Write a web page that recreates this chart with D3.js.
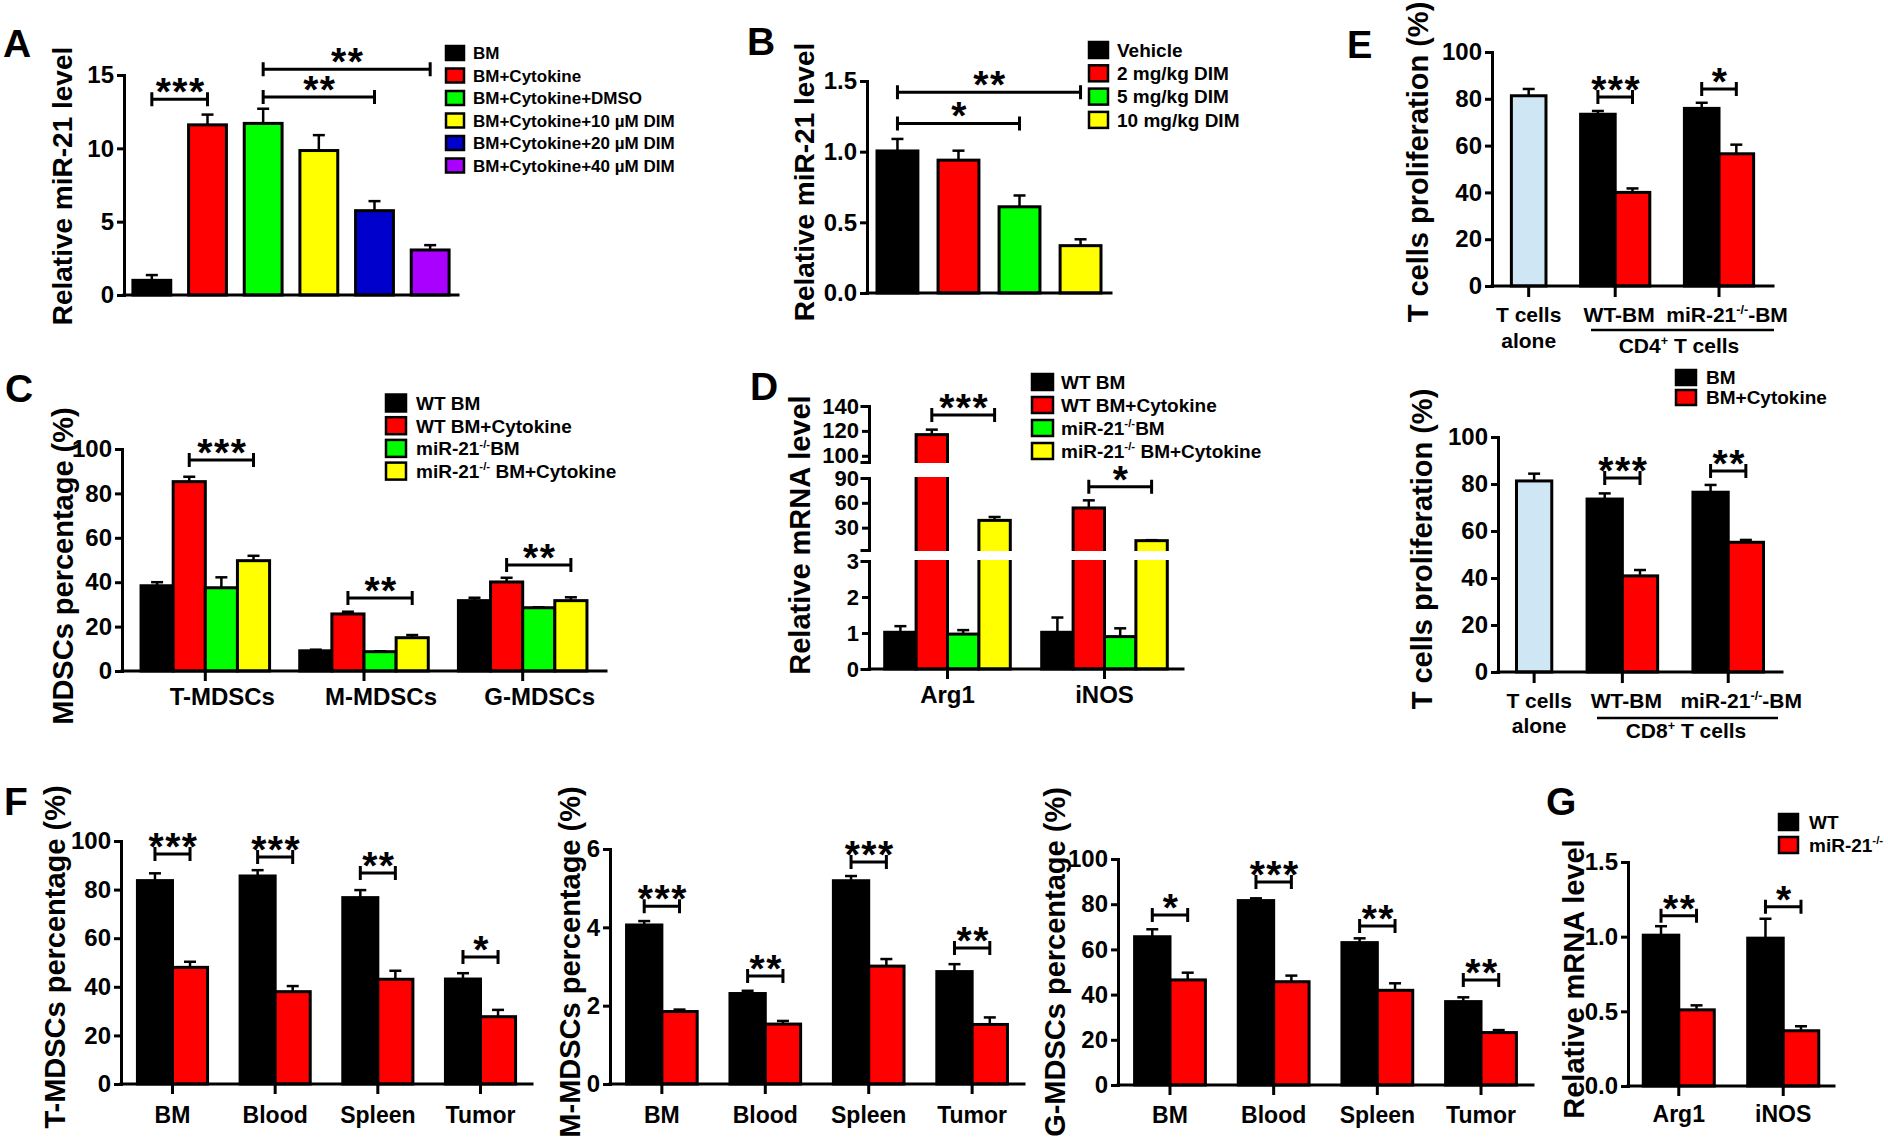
<!DOCTYPE html>
<html>
<head>
<meta charset="utf-8">
<title>miR-21 figure</title>
<script src="https://cdn.jsdelivr.net/npm/d3@7/dist/d3.min.js"></script>
<style>
  html, body { margin: 0; padding: 0; background: #ffffff; }
  svg { display: block; }
</style>
</head>
<body>
<svg id="fig" width="1888" height="1146" xmlns="http://www.w3.org/2000/svg"></svg>
<script>
// ================= DATA =================
// Panel A
const aGroups = ["BM", "BM+Cytokine", "BM+Cytokine+DMSO", "BM+Cytokine+10 µM DIM", "BM+Cytokine+20 µM DIM", "BM+Cytokine+40 µM DIM"];
const aMeans = [1.0, 11.6, 11.7, 9.85, 5.75, 3.07];
const aSem = [0.36, 0.7, 1.0, 1.05, 0.65, 0.33];
const aTicks = [0, 5, 10, 15];
const aSig = [
  { from: 0, to: 1, level: 13.35, label: "***" },
  { from: 2, to: 4, level: 13.5, label: "**" },
  { from: 2, to: 5, level: 15.4, label: "**" }
];

// Panel B
const bGroups = ["Vehicle", "2 mg/kg DIM", "5 mg/kg DIM", "10 mg/kg DIM"];
const bMeans = [1.005, 0.94, 0.61, 0.335];
const bSem = [0.085, 0.067, 0.08, 0.045];
const bTicks = [0, 0.5, 1.0, 1.5];
const bSig = [
  { from: 0, to: 3, level: 1.42, label: "**" },
  { from: 0, to: 2, level: 1.20, label: "*" }
];

// Panel C
const cGroups = ["T-MDSCs", "M-MDSCs", "G-MDSCs"];
const cSeries = ["WT BM", "WT BM+Cytokine", "miR-21^{-/-}BM", "miR-21^{-/-} BM+Cytokine"];
const cWtBm = [38.4, 9.1, 31.7];
const cWtBmSem = [1.6, 0.5, 1.3];
const cWtBmCyt = [85.3, 25.7, 40.1];
const cWtBmCytSem = [2.2, 1.0, 1.9];
const cKoBm = [37.5, 8.7, 28.5];
const cKoBmSem = [4.7, 0.2, 0.2];
const cKoBmCyt = [49.7, 15.0, 31.7];
const cKoBmCytSem = [2.2, 1.2, 1.5];
const cTicks = [0, 20, 40, 60, 80, 100];
const cSig = [
  { group: 0, from: 1, to: 3, level: 95, label: "***" },
  { group: 1, from: 1, to: 3, level: 32.9, label: "**" },
  { group: 2, from: 1, to: 3, level: 47.7, label: "**" }
];

// Panel D
const dGroups = ["Arg1", "iNOS"];
const dSeries = ["WT BM", "WT BM+Cytokine", "miR-21^{-/-}BM", "miR-21^{-/-} BM+Cytokine"];
const dWtBm = [1.02, 1.02];
const dWtBmSem = [0.17, 0.41];
const dWtBmCyt = [117, 53.8];
const dWtBmCytSem = [4.0, 9.2];
const dKoBm = [0.97, 0.90];
const dKoBmSem = [0.11, 0.23];
const dKoBmCyt = [38.8, 14.3];
const dKoBmCytSem = [4.1, 0.6];
const dTicksBottom = [0, 1, 2, 3];
const dTicksMid = [30, 60, 90];
const dTicksTop = [100, 120, 140];
const dSig = [
  { group: 0, from: 1, to: 3, level: 132.7, label: "***" },
  { group: 1, from: 1, to: 3, level: 79.5, label: "*" }
];

// Panel E
const eGroups = ["T cells alone", "WT-BM", "miR-21^{-/-}-BM"];
const eSeries = ["BM", "BM+Cytokine"];
const eTicks = [0, 20, 40, 60, 80, 100];
const eCd4Alone = 81.3, eCd4AloneSem = 2.9;
const eCd4Bm = [73.4, 75.9];
const eCd4BmSem = [1.4, 2.4];
const eCd4BmCyt = [40.0, 56.5];
const eCd4BmCytSem = [1.7, 3.9];
const eCd4Sig = [{ group: 1, level: 80.8, label: "***" }, { group: 2, level: 84.2, label: "*" }];
const eCd8Alone = 81.3, eCd8AloneSem = 3.1;
const eCd8Bm = [73.6, 76.5];
const eCd8BmSem = [2.4, 3.1];
const eCd8BmCyt = [40.9, 55.2];
const eCd8BmCytSem = [2.5, 1.0];
const eCd8Sig = [{ group: 1, level: 82.6, label: "***" }, { group: 2, level: 85.5, label: "**" }];

// Panel F
const fGroups = ["BM", "Blood", "Spleen", "Tumor"];
const fTWt = [83.7, 85.6, 76.7, 43.2];
const fTWtSem = [3.0, 2.4, 3.1, 2.4];
const fTKo = [48.0, 38.0, 43.1, 27.7];
const fTKoSem = [2.3, 2.3, 3.5, 2.8];
const fTSigLabels = ["***", "***", "**", "*"];
const fTSigLevels = [94.7, 93.4, 86.8, 52.3];
const fMWt = [4.06, 2.31, 5.19, 2.87];
const fMWtSem = [0.10, 0.07, 0.12, 0.19];
const fMKo = [1.85, 1.53, 3.01, 1.52];
const fMKoSem = [0.05, 0.08, 0.18, 0.18];
const fMSigLabels = ["***", "**", "***", "**"];
const fMSigLevels = [4.54, 2.76, 5.67, 3.47];
const fGWt = [65.6, 81.6, 63.0, 36.9];
const fGWtSem = [3.3, 1.0, 1.9, 1.9];
const fGKo = [46.5, 45.7, 41.9, 23.2];
const fGKoSem = [3.2, 2.7, 3.1, 1.1];
const fGSigLabels = ["*", "***", "**", "**"];
const fGSigLevels = [75.2, 89.8, 70.4, 46.5];
const fPctTicks = [0, 20, 40, 60, 80, 100];
const fMTicks = [0, 2, 4, 6];

// Panel G
const gGroups = ["Arg1", "iNOS"];
const gSeries = ["WT", "miR-21^{-/-}"];
const gWt = [1.01, 0.99];
const gWtSem = [0.06, 0.13];
const gKo = [0.51, 0.37];
const gKoSem = [0.03, 0.03];
const gTicks = [0, 0.5, 1.0, 1.5];
const gSig = [{ group: 0, from: 0, to: 1, level: 1.14, label: "**" }, { group: 1, from: 0, to: 1, level: 1.20, label: "*" }];

// Colours
const aColors = ["#000000", "#ff0000", "#00ff00", "#ffff00", "#0000cc", "#aa00ff"];
const fourColors = ["#000000", "#ff0000", "#00ff00", "#ffff00"];
const pairColors = ["#000000", "#ff0000"];
const aloneColor = "#cfe7f5";

// ================= DRAWING =================
const FONT = "'Liberation Sans', Arial, Helvetica, sans-serif";
const svg = d3.select("#fig");
svg.append("rect").attr("width", 1888).attr("height", 1146).attr("fill", "#ffffff");
const fmtInt = d3.format("d");
const fmt1 = d3.format(".1f");

function richText(g, x, y, str, size, anchor, rotate) {
  const t = g.append("text").attr("x", x).attr("y", y)
    .attr("font-size", size).attr("font-family", FONT).attr("font-weight", "bold")
    .attr("fill", "#000").attr("text-anchor", anchor || "start")
    .style("white-space", "pre");
  if (rotate) t.attr("transform", `rotate(-90,${x},${y})`);
  const parts = str.split(/\^\{([^}]*)\}/);
  let shifted = false;
  parts.forEach((p, i) => {
    const sup = i % 2 === 1;
    if (p === "") return;
    const ts = t.append("tspan").text(p);
    if (sup) { ts.attr("font-size", size * 0.6).attr("dy", -size * 0.4); shifted = true; }
    else if (shifted) { ts.attr("dy", size * 0.4); shifted = false; }
  });
  return t;
}

function drawBar(g, x, w, y, v, sem, color) {
  const cx = x + w / 2;
  if (sem > 0) {
    g.append("line").attr("x1", cx).attr("x2", cx).attr("y1", y(v)).attr("y2", y(v + sem))
      .attr("stroke", "#000").attr("stroke-width", 2.5);
    g.append("line").attr("x1", cx - 6).attr("x2", cx + 6).attr("y1", y(v + sem)).attr("y2", y(v + sem))
      .attr("stroke", "#000").attr("stroke-width", 2.5);
  }
  g.append("rect").attr("x", x).attr("y", y(v)).attr("width", w).attr("height", y(0) - y(v))
    .attr("fill", color).attr("stroke", "#000").attr("stroke-width", 3);
}

function drawYAxis(g, y, x, ticks, fmt, outer, size) {
  const ax = d3.axisLeft(y).tickValues(ticks).tickSize(7).tickSizeOuter(outer || 0).tickPadding(3);
  ax.tickFormat(fmt || fmtInt);
  const a = g.append("g").attr("transform", `translate(${x},0)`).call(ax);
  a.attr("font-family", FONT).attr("font-size", size || 24).attr("font-weight", "bold");
  a.selectAll("path, line").attr("stroke", "#000").attr("stroke-width", 3);
  a.select(".domain").attr("stroke-linecap", "square");
  a.selectAll("text").attr("fill", "#000");
  return a;
}

function drawXBase(g, x0, x1, y) {
  g.append("line").attr("x1", x0).attr("x2", x1).attr("y1", y).attr("y2", y)
    .attr("stroke", "#000").attr("stroke-width", 3).attr("stroke-linecap", "square");
}

function bracket(g, x1, x2, y, label) {
  g.append("path").attr("d", `M${x1},${y - 7}V${y + 7}M${x1},${y}H${x2}M${x2},${y - 7}V${y + 7}`)
    .attr("stroke", "#000").attr("stroke-width", 3).attr("fill", "none");
  g.append("text").attr("x", (x1 + x2) / 2 + 1).attr("y", y + 6).attr("text-anchor", "middle")
    .attr("font-family", FONT).attr("font-weight", "bold").attr("font-size", 39)
    .attr("letter-spacing", 1.5).text(label);
}

function legend(x, yc0, step, sw, sh, gap, size, labels, colors) {
  const g = svg.append("g");
  labels.forEach((lab, i) => {
    const cy = yc0 + i * step;
    g.append("rect").attr("x", x).attr("y", cy - sh / 2).attr("width", sw).attr("height", sh)
      .attr("fill", colors[i]).attr("stroke", "#000").attr("stroke-width", 2.5);
    richText(g, x + sw + gap, cy + size * 0.36, lab, size, "start");
  });
}

function barPanel(o) {
  const g = svg.append("g");
  const y = d3.scaleLinear().domain([0, o.yMax]).range([o.y0, o.yTop]);
  const x = d3.scaleBand().domain(o.groups).range([o.axisX, o.axisEnd]).paddingInner(o.pi).paddingOuter(o.po);
  const xi = d3.scaleBand().domain(d3.range(o.series.length)).range([0, x.bandwidth()]);
  const bw = xi.bandwidth();
  o.series.forEach((s, si) => {
    o.groups.forEach((name, gi) => {
      const col = Array.isArray(s.color) ? s.color[gi] : s.color;
      drawBar(g, x(name) + xi(si), bw, y, s.means[gi], s.sems[gi], col);
    });
  });
  drawYAxis(g, y, o.axisX, o.ticks, o.fmt);
  drawXBase(g, o.axisX, o.axisEnd, o.y0);
  if (o.xTicks) {
    const a = g.append("g").attr("transform", `translate(0,${o.y0})`)
      .call(d3.axisBottom(x).tickSize(10).tickFormat(""));
    a.select(".domain").remove();
    a.selectAll("line").attr("stroke", "#000").attr("stroke-width", 3);
  }
  if (o.labelY) {
    o.groups.forEach(name => richText(g, x(name) + x.bandwidth() / 2 + (o.labelDx || 0), o.labelY, name, o.labelSize || 23, "middle"));
  }
  const cx = (gi, si) => x(o.groups[gi]) + xi(si) + bw / 2;
  (o.sig || []).forEach(s => {
    const x1 = s.group === undefined ? cx(s.from, 0) : cx(s.group, s.from);
    const x2 = s.group === undefined ? cx(s.to, 0) : cx(s.group, s.to);
    bracket(g, x1, x2, y(s.level), s.label);
  });
  return g;
}

// ---------- Panel A ----------
barPanel({
  axisX: 124, axisEnd: 458, y0: 295, yTop: 75, yMax: 15, ticks: aTicks,
  groups: aGroups, series: [{ means: aMeans, sems: aSem, color: aColors }],
  pi: 0.32, po: 0.16, sig: aSig
});
richText(svg, 72, 186, "Relative miR-21 level", 28, "middle", true);
richText(svg, 3, 57, "A", 39, "start");
legend(446, 53, 22.5, 18, 14, 9, 17, aGroups, aColors);

// ---------- Panel B ----------
barPanel({
  axisX: 867, axisEnd: 1111, y0: 293, yTop: 81, yMax: 1.5, ticks: bTicks, fmt: fmt1,
  groups: bGroups, series: [{ means: bMeans, sems: bSem, color: fourColors }],
  pi: 0.33, po: 0.164, sig: bSig
});
richText(svg, 814, 182, "Relative miR-21 level", 28, "middle", true);
richText(svg, 747, 55, "B", 39, "start");
legend(1089, 50, 23.3, 19, 16, 9, 19, bGroups, fourColors);

// ---------- Panel C ----------
barPanel({
  axisX: 122, axisEnd: 606, y0: 671, yTop: 449, yMax: 100, ticks: cTicks,
  groups: cGroups,
  series: [
    { means: cWtBm, sems: cWtBmSem, color: fourColors[0] },
    { means: cWtBmCyt, sems: cWtBmCytSem, color: fourColors[1] },
    { means: cKoBm, sems: cKoBmSem, color: fourColors[2] },
    { means: cKoBmCyt, sems: cKoBmCytSem, color: fourColors[3] }
  ],
  pi: 0.19, po: 0.12, sig: cSig, xTicks: true, labelY: 705, labelDx: 17, labelSize: 24
});
richText(svg, 73, 566, "MDSCs percentage (%)", 29, "middle", true);
richText(svg, 5, 402, "C", 39, "start");
legend(386, 403, 22.7, 20, 17, 10, 19, cSeries, fourColors);

// ---------- Panel D (broken axis) ----------
(function () {
  const g = svg.append("g");
  const axisX = 869, axisEnd = 1183, y0 = 669;
  const yBot = d3.scaleLinear().domain([0, 3]).range([669, 561]);
  const yMid = d3.scaleLinear().domain([3, 90]).range([550, 478]);
  const yTopS = d3.scaleLinear().domain([95, 140]).range([462, 406]);
  const y = d3.scaleLinear().domain([0, 3, 3.001, 90, 95, 140]).range([669, 561, 550, 478, 462, 406]);
  const x = d3.scaleBand().domain(dGroups).range([axisX, axisEnd]).paddingInner(0.2).paddingOuter(0.1);
  const xi = d3.scaleBand().domain(d3.range(4)).range([0, x.bandwidth()]);
  const series = [
    { means: dWtBm, sems: dWtBmSem }, { means: dWtBmCyt, sems: dWtBmCytSem },
    { means: dKoBm, sems: dKoBmSem }, { means: dKoBmCyt, sems: dKoBmCytSem }
  ];
  series.forEach((s, si) => dGroups.forEach((name, gi) =>
    drawBar(g, x(name) + xi(si), xi.bandwidth(), y, s.means[gi], s.sems[gi], fourColors[si])));
  // axis breaks cut through the bars
  [[yBot(3) - 1, yMid(3) + 1], [yMid(90) - 1, yTopS(95) + 1]].forEach(([a, b]) => {
    g.append("rect").attr("x", axisX + 2).attr("y", b).attr("width", axisEnd - axisX).attr("height", a - b).attr("fill", "#fff");
  });
  drawYAxis(g, yBot, axisX, dTicksBottom, fmtInt, 7, 22);
  drawYAxis(g, yMid, axisX, dTicksMid, fmtInt, 7, 22);
  drawYAxis(g, yTopS, axisX, dTicksTop, fmtInt, 7, 22);
  drawXBase(g, axisX, axisEnd, y0);
  const a = g.append("g").attr("transform", `translate(0,${y0})`).call(d3.axisBottom(x).tickSize(10).tickFormat(""));
  a.select(".domain").remove();
  a.selectAll("line").attr("stroke", "#000").attr("stroke-width", 3);
  dGroups.forEach(name => richText(g, x(name) + x.bandwidth() / 2, 703, name, 24, "middle"));
  dSig.forEach(s => {
    const x1 = x(dGroups[s.group]) + xi(s.from) + xi.bandwidth() / 2;
    const x2 = x(dGroups[s.group]) + xi(s.to) + xi.bandwidth() / 2;
    bracket(g, x1, x2, y(s.level), s.label);
  });
})();
richText(svg, 810, 535, "Relative mRNA level", 29, "middle", true);
richText(svg, 750, 400, "D", 39, "start");
legend(1032, 382, 23, 21, 16, 8, 19, dSeries, fourColors);

// ---------- Panel E ----------
function ePanel(o) {
  const g = svg.append("g");
  const y = d3.scaleLinear().domain([0, 100]).range([o.y0, o.yTop]);
  const key = (gi, si) => eGroups[gi] + "|" + eSeries[si];
  const slots = [eGroups[0], "gap1", key(1, 0), key(1, 1), "gap2", key(2, 0), key(2, 1)];
  const x = d3.scaleBand().domain(slots).range([o.axisX, o.axisEnd]).paddingInner(0).paddingOuter(o.po);
  const w = x.bandwidth();
  drawBar(g, x(eGroups[0]), w, y, o.alone, o.aloneSem, aloneColor);
  [1, 2].forEach((gi, k) => {
    drawBar(g, x(key(gi, 0)), w, y, o.bm[k], o.bmSem[k], pairColors[0]);
    drawBar(g, x(key(gi, 1)), w, y, o.cyt[k], o.cytSem[k], pairColors[1]);
  });
  drawYAxis(g, y, o.axisX, eTicks);
  drawXBase(g, o.axisX, o.axisEnd, o.y0);
  const tickXs = [x(eGroups[0]) + w / 2, x(key(1, 1)), x(key(2, 1))];
  tickXs.forEach(t => g.append("line").attr("x1", t).attr("x2", t).attr("y1", o.y0).attr("y2", o.y0 + 11)
    .attr("stroke", "#000").attr("stroke-width", 3));
  o.sig.forEach(s => bracket(g, x(key(s.group, 0)) + w / 2, x(key(s.group, 1)) + w / 2, y(s.level), s.label));
  richText(g, tickXs[0] + o.dx[0], o.ly1, "T cells", 21, "middle");
  richText(g, tickXs[0] + o.dx[0], o.ly2, "alone", 21, "middle");
  richText(g, tickXs[1] + o.dx[1], o.ly1, eGroups[1], 21, "middle");
  richText(g, tickXs[2] + o.dx[2], o.ly1, eGroups[2], 21, "middle");
  g.append("line").attr("x1", o.ul[0]).attr("x2", o.ul[1]).attr("y1", o.ul[2]).attr("y2", o.ul[2])
    .attr("stroke", "#000").attr("stroke-width", 2.5);
  richText(g, o.cdX, o.ly2 + 5, o.cdLabel, 21, "middle");
}
ePanel({
  axisX: 1492, axisEnd: 1773, y0: 286, yTop: 52, po: 0.56,
  alone: eCd4Alone, aloneSem: eCd4AloneSem, bm: eCd4Bm, bmSem: eCd4BmSem, cyt: eCd4BmCyt, cytSem: eCd4BmCytSem,
  sig: eCd4Sig, ly1: 322, ly2: 348, dx: [0, 4, 8], ul: [1591, 1774, 330], cdX: 1679, cdLabel: "CD4^{+} T cells"
});
ePanel({
  axisX: 1498, axisEnd: 1782, y0: 672, yTop: 437, po: 0.524,
  alone: eCd8Alone, aloneSem: eCd8AloneSem, bm: eCd8Bm, bmSem: eCd8BmSem, cyt: eCd8BmCyt, cytSem: eCd8BmCytSem,
  sig: eCd8Sig, ly1: 708, ly2: 733, dx: [5, 4, 13], ul: [1597, 1778, 718], cdX: 1686, cdLabel: "CD8^{+} T cells"
});
richText(svg, 1428, 162, "T cells proliferation (%)", 29, "middle", true);
richText(svg, 1432, 549, "T cells proliferation (%)", 29, "middle", true);
richText(svg, 1347, 58, "E", 38, "start");
legend(1676, 377.5, 20, 20, 15, 10, 19, eSeries, pairColors);

// ---------- Panel F ----------
function fPanel(axisX, axisEnd, y0, yTop, yMax, ticks, wt, wtSem, ko, koSem, sigLabels, sigLevels) {
  barPanel({
    axisX, axisEnd, y0, yTop, yMax, ticks, fmt: fmtInt, groups: fGroups,
    series: [{ means: wt, sems: wtSem, color: pairColors[0] }, { means: ko, sems: koSem, color: pairColors[1] }],
    pi: 0.317, po: 0.16, xTicks: true, labelY: 1123, labelSize: 23,
    sig: sigLabels.map((l, i) => ({ group: i, from: 0, to: 1, level: sigLevels[i], label: l }))
  });
}
fPanel(121, 532, 1084, 841, 100, fPctTicks, fTWt, fTWtSem, fTKo, fTKoSem, fTSigLabels, fTSigLevels);
fPanel(610, 1024, 1084, 849, 6, fMTicks, fMWt, fMWtSem, fMKo, fMKoSem, fMSigLabels, fMSigLevels);
fPanel(1118, 1533, 1085, 859, 100, fPctTicks, fGWt, fGWtSem, fGKo, fGKoSem, fGSigLabels, fGSigLevels);
richText(svg, 65, 957, "T-MDSCs percentage (%)", 29, "middle", true);
richText(svg, 580, 962, "M-MDSCs percentage (%)", 29, "middle", true);
richText(svg, 1065, 962, "G-MDSCs percentage (%)", 29, "middle", true);
richText(svg, 4, 815, "F", 39, "start");

// ---------- Panel G ----------
barPanel({
  axisX: 1628, axisEnd: 1834, y0: 1086, yTop: 862, yMax: 1.5, ticks: gTicks, fmt: fmt1,
  groups: gGroups,
  series: [{ means: gWt, sems: gWtSem, color: pairColors[0] }, { means: gKo, sems: gKoSem, color: pairColors[1] }],
  pi: 0.32, po: 0.146, sig: gSig, xTicks: true, labelY: 1122, labelSize: 23
});
richText(svg, 1584, 979, "Relative mRNA level", 29, "middle", true);
richText(svg, 1546, 815, "G", 39, "start");
legend(1779, 822, 23, 19, 16, 11, 19, gSeries, pairColors);
</script>
</body>
</html>
